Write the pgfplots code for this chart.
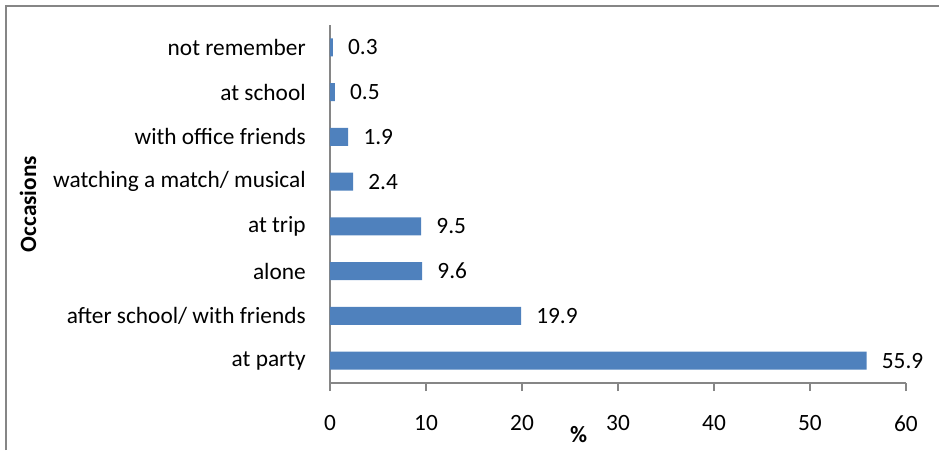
\documentclass[border=0pt]{standalone}
\usepackage{pgfplots}
\pgfplotsset{compat=1.18}
\usepackage{fontspec}
\setmainfont{Carlito}
\definecolor{barblue}{HTML}{4F81BD}
\definecolor{axgray}{HTML}{868686}
\begin{document}
\fontsize{17.5}{21}\selectfont
\begin{tikzpicture}
\useasboundingbox (0,0) rectangle (704.25pt,337.5pt);
\draw[axgray, line width=1.3pt] (4.5pt,0) -- (4.5pt,333pt) -- (704.25pt,333pt);
\begin{axis}[
  at={(247.5pt,50.25pt)}, anchor=south west,
  scale only axis, width=432pt, height=268.5pt,
  xbar, bar width=0.4,
  xmin=0, xmax=60, ymin=-0.5, ymax=7.5,
  axis x line*=bottom, axis y line*=left,
  axis line style={axgray, line width=0.9pt},
  xtick={0,10,...,60},
  ytick={0,...,7},
  yticklabels={at party, after school/ with friends, alone, at trip, watching a match/ musical, with office friends, at school, not remember},
  minor ytick={-0.5,0.5,...,7.5},
  tick align=outside,
  major tick length=6pt,
  minor tick length=5.5pt,
  every tick/.style={axgray, line width=0.9pt},
  y tick style={draw=none},
  minor y tick style={axgray, line width=0.9pt},
  /pgf/number format/assume math mode=true,
  xticklabel style={inner sep=0pt, anchor=north, yshift=-18pt},
  yticklabel style={inner sep=0pt, anchor=east, xshift=-12pt},
  xlabel={\textbf{\%}},
  xlabel style={at={(axis cs:25.9,-0.5)}, anchor=center, yshift=-38.6pt},
  ylabel={\textbf{Occasions}},
  ylabel style={at={([xshift=-226.5pt]rel axis cs:0,0.5)}, anchor=center},
  nodes near coords={\pgfmathprintnumber[fixed,precision=1,fixed zerofill]{\pgfplotspointmeta}},
  nodes near coords style={anchor=west, inner sep=0pt, xshift=11.25pt, text=black},
]
\addplot[fill=barblue, draw=none] coordinates {
  (55.9,0) (19.9,1) (9.6,2) (9.5,3) (2.4,4) (1.9,5) (0.5,6) (0.3,7)
};
\end{axis}
\end{tikzpicture}
\end{document}
